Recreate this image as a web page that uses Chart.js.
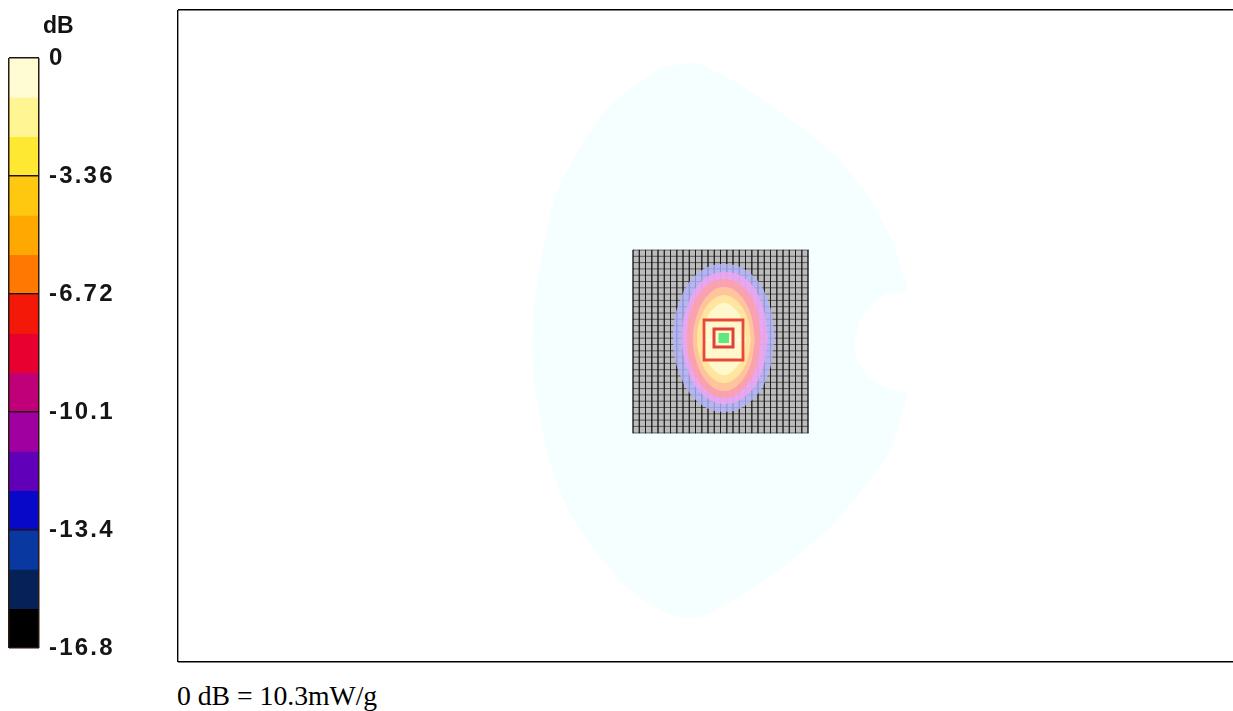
<!DOCTYPE html>
<html>
<head>
<meta charset="utf-8">
<script src="https://cdn.jsdelivr.net/npm/chart.js@4"></script>
<style>
html,body{margin:0;padding:0;background:#fff;width:1233px;height:711px;overflow:hidden}
canvas{position:absolute;display:block}
.t{position:absolute;white-space:nowrap;color:#000}
</style>
</head>
<body>
<canvas id="field" width="1063" height="667" style="left:171px;top:3px"></canvas>
<canvas id="bar" width="130" height="711" style="left:0;top:0"></canvas>
<div class="t" id="db" style="left:43px;top:12px;font:bold 23px 'Liberation Sans';color:#111">dB</div>
<div class="t" id="note" style="left:177px;top:681px;font:27.7px/30px 'Liberation Serif'">0 dB = 10.3mW/g</div>
<script>
// ---- colour bar ----
const barStep = 1.12;
const barColors = ['#fffbd2','#fff592','#ffe832','#ffc810','#ffa802','#ff7802','#f41808','#e80030',
                   '#c00078','#a000a0','#6000b8','#0808c8','#0838a0','#062058','#000000'];
const tickValues = [0,-3.36,-6.72,-10.08,-13.44,-16.8];
const tickLabels = ['0','-3.36','-6.72','-10.1','-13.4','-16.8'];

// ---- phantom outline ----
const outlineX = [697,737,787,837,870,893,903,907,884,862,855,868,890,907,903,890,860,827,783,733,697,667,630,597,570,550,540,533,533,537,543,553,573,603,633,663,697];
const outlineY = [62,83,117,157,200,243,275,290,295,317,350,376,389,394,410,450,493,530,567,600,618,613,590,553,513,463,417,370,320,282,250,203,160,113,87,68,62];

// ---- measurement square ----
const squareX = [633,808,808,633,633];
const squareY = [250,250,433,433,250];
const gridX = [633,639.3,645.5,651.8,658,664.3,670.5,676.8,683,689.3,695.5,701.8,708,714.3,720.5,726.8,733,739.3,745.5,751.8,758,764.3,770.5,776.8,783,789.3,795.5,801.8,808];
const gridY = [250,256.3,262.6,268.9,275.2,281.5,287.8,294.1,300.4,306.7,313,319.3,325.6,331.9,338.2,344.5,350.8,357.1,363.4,369.7,376,382.3,388.6,394.9,401.2,407.5,413.8,420.1,426.4,433];

// ---- contours ----
const contourBlueX = [775,768,750,724,698,680,673,680,698,724,750,768,775];
const contourBlueY = [337,300,273,264,273,300,337,375,402,412,402,375,337];
const contourPinkX = [768,762,747,725,703,688,682,688,703,725,747,762,768];
const contourPinkY = [337,304,280,272,280,304,337,371,395,404,395,371,337];
const contourRedX = [761,756,742,724,706,692,687,692,706,724,742,756,761];
const contourRedY = [338,307,286,279,286,307,338,368,390,398,390,368,338];
const contourOrangeX = [755,750,738,724,710,698,693,698,710,724,738,750,755];
const contourOrangeY = [339,312,293,287,293,312,339,366,385,391,385,366,339];
const contourYellowX = [751,747,737,724,711,701,697,701,711,724,737,747,751];
const contourYellowY = [339,317,301,295,301,317,339,361,377,383,377,361,339];
const contourPaleX = [746,743,735,724,713,705,702,705,713,724,735,743,746];
const contourPaleY = [339,322,309,303,309,322,339,356,369,375,369,356,339];

// ---- peak search boxes ----
const outerBoxX = [704,743,743,704,704];
const outerBoxY = [320,320,360,360,320];
const innerBoxX = [714,733,733,714,714];
const innerBoxY = [329,329,347,347,329];
const peakX = [718.5,729,729,718.5,718.5];
const peakY = [333,333,343,343,333];
const scanLineX = [702,745];
const scanLineY = [340,340];

const frameX = [178];
const frameY = [10,662];

const pts = (xs,ys)=>xs.map((x,i)=>({x,y:ys[i]}));
const poly = (xs,ys,color,tension)=>({data:pts(xs,ys),backgroundColor:color,borderColor:color,borderWidth:0,fill:'shape',tension:tension||0,pointRadius:0});
const stroke = (xs,ys,color,w)=>({data:pts(xs,ys),borderColor:color,borderWidth:w,fill:false,tension:0,pointRadius:0,borderCapStyle:'square'});

const layers = [
  poly(outlineX,outlineY,'#f5ffff',0.3),
  poly(squareX,squareY,'#bcbcbc'),
  ...gridX.map(x=>stroke([x,x],[250,433],'rgba(15,15,15,0.58)',1)),
  ...gridY.map(y=>stroke([633,808],[y,y],'rgba(15,15,15,0.58)',1)),
  poly(contourBlueX,contourBlueY,'rgba(180,180,255,0.8)',0.4),
  poly(contourPinkX,contourPinkY,'rgba(244,165,240,0.8)',0.4),
  poly(contourRedX,contourRedY,'rgba(255,160,160,0.8)',0.4),
  poly(contourOrangeX,contourOrangeY,'rgba(255,205,150,0.8)',0.4),
  poly(contourYellowX,contourYellowY,'rgba(255,238,160,0.8)',0.4),
  poly(contourPaleX,contourPaleY,'rgba(255,252,215,0.8)',0.4),
  stroke(scanLineX,scanLineY,'rgba(255,255,255,0.85)',1),
  stroke(outerBoxX,outerBoxY,'#e84838',2.8),
  stroke(innerBoxX,innerBoxY,'#e04038',3),
  poly(peakX,peakY,'#60e880')
];
layers.forEach((d,i)=>{d.order=layers.length-i;});

new Chart(document.getElementById('field'),{
  type:'line',
  data:{datasets:layers},
  options:{
    responsive:false,animation:false,devicePixelRatio:1,
    layout:{padding:{left:7,top:7,right:0,bottom:8}},
    plugins:{legend:{display:false},tooltip:{enabled:false}},
    scales:{
      x:{type:'linear',min:178,max:1234,
         afterBuildTicks:s=>{s.ticks=frameX.map(value=>({value}));},
         ticks:{display:false},border:{display:false},
         grid:{color:'#000',lineWidth:1.4,drawTicks:false,z:1}},
      y:{type:'linear',min:10,max:662,reverse:true,
         afterBuildTicks:s=>{s.ticks=frameY.map(value=>({value}));},
         ticks:{display:false},border:{display:false},
         grid:{color:'#000',lineWidth:1.4,drawTicks:false,z:1}}
    }
  }
});

new Chart(document.getElementById('bar'),{
  type:'bar',
  data:{labels:['dB'],datasets:barColors.map(c=>({data:[-barStep],backgroundColor:c,borderWidth:0,barPercentage:1,categoryPercentage:1,stack:'s'}))},
  options:{
    responsive:false,animation:false,devicePixelRatio:1,
    layout:{padding:{left:9,top:58,right:0,bottom:63}},
    plugins:{legend:{display:false},tooltip:{enabled:false}},
    scales:{
      x:{stacked:true,offset:true,ticks:{display:false},border:{display:false},
         grid:{color:'#2a1a10',lineWidth:1.5,drawTicks:false,z:1,offset:true}},
      y:{stacked:true,position:'right',min:-16.8,max:0,
         afterBuildTicks:s=>{s.ticks=tickValues.map(value=>({value}));},
         afterFit:s=>{s.width=91;},
         ticks:{autoSkip:false,padding:10,color:'#151515',
                font:{family:'Liberation Sans',weight:'bold',size:24},
                callback:v=>tickLabels[tickValues.indexOf(v)]},
         border:{display:false},
         grid:{color:'#22101a',lineWidth:1.5,drawTicks:false,z:1}}
    }
  },
  plugins:[{id:'spacing',beforeDraw(ch){ch.ctx.letterSpacing='2.2px';}}]
});
</script>
</body>
</html>
